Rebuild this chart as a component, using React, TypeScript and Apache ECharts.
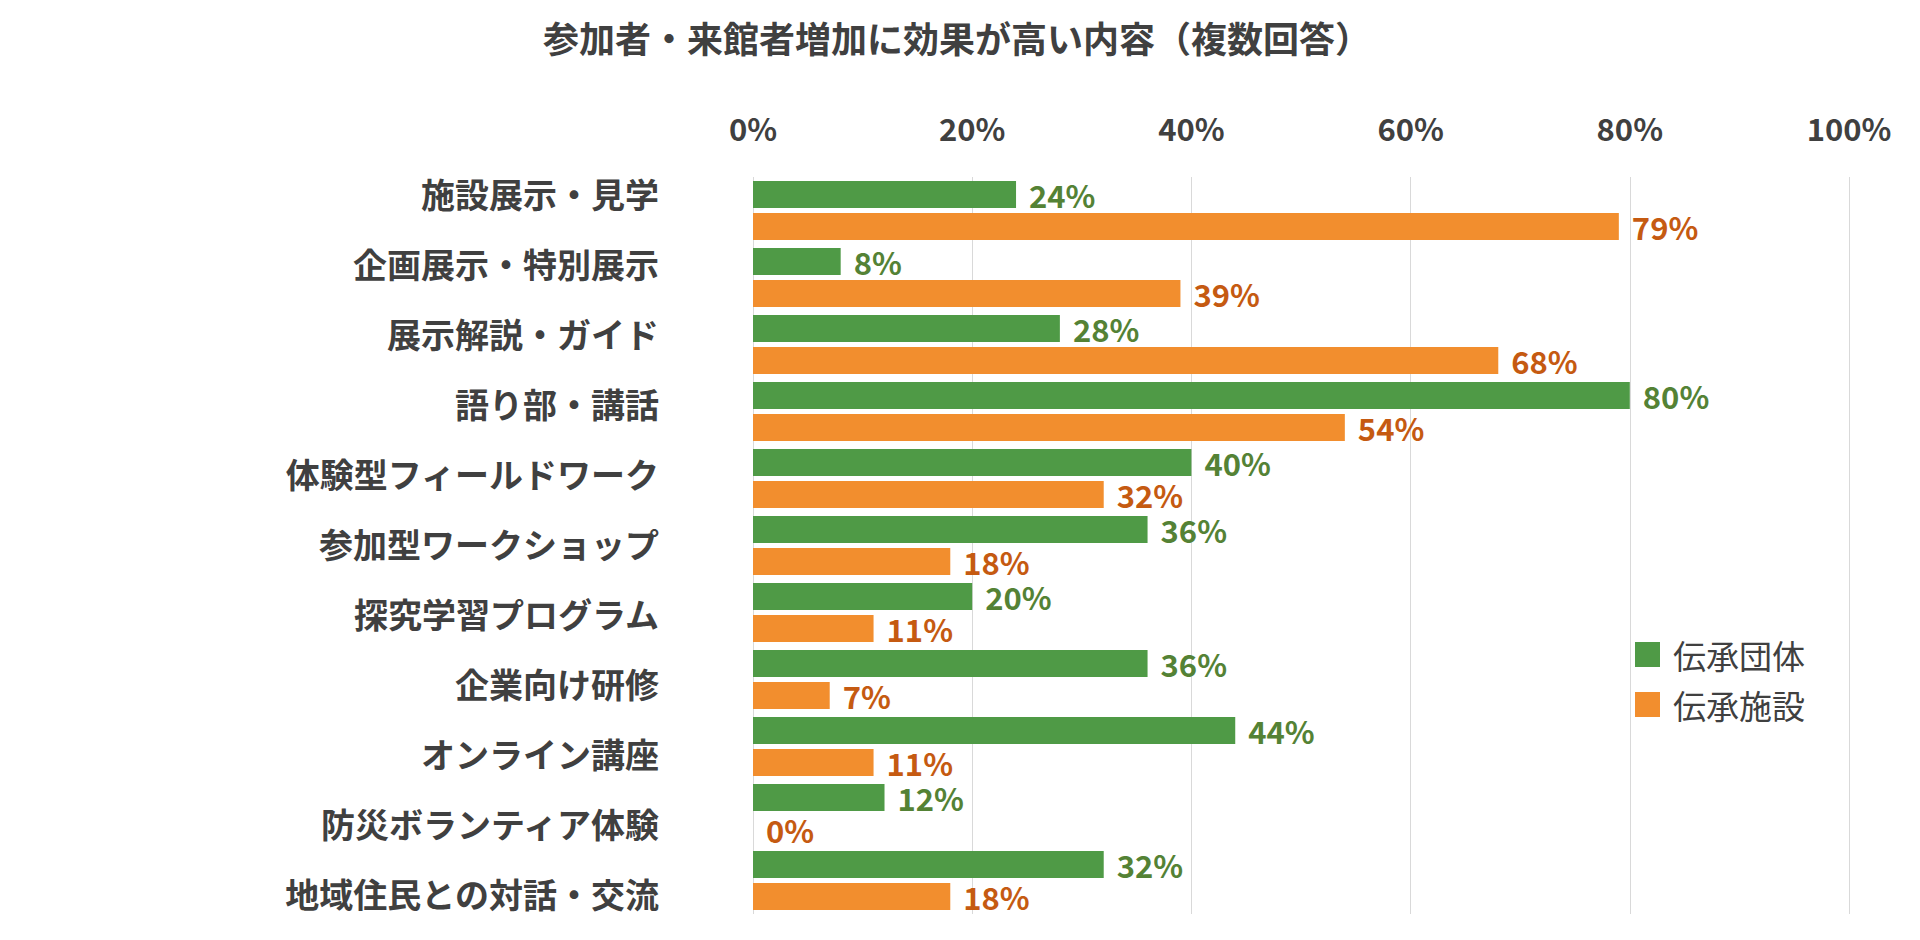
import React, { useEffect, useRef } from "react";
import * as echarts from "echarts";

const categories = [
  "施設展示・見学",
  "企画展示・特別展示",
  "展示解説・ガイド",
  "語り部・講話",
  "体験型フィールドワーク",
  "参加型ワークショップ",
  "探究学習プログラム",
  "企業向け研修",
  "オンライン講座",
  "防災ボランティア体験",
  "地域住民との対話・交流",
];

const groupValues = [24, 8, 28, 80, 40, 36, 20, 36, 44, 12, 32];
const facilityValues = [79, 39, 68, 54, 32, 18, 11, 7, 11, 0, 18];

const seriesNames = ["伝承団体", "伝承施設"];
const titleText = "参加者・来館者増加に効果が高い内容（複数回答）";

const FONT = '"Noto Sans CJK JP", "Noto Sans", sans-serif';
const TEXT = "#404040";

export default function App() {
  const ref = useRef<HTMLDivElement>(null);

  useEffect(() => {
    if (!ref.current) return;
    const chart = echarts.init(ref.current, undefined, { renderer: "svg" });
    const labelCommon = {
      show: true,
      position: "right" as const,
      distance: 13,
      formatter: "{c}%",
      fontFamily: FONT,
      fontSize: 31,
      lineHeight: 28,
      fontWeight: "bold" as const,
    };
    chart.setOption({
      animation: false,
      backgroundColor: "#ffffff",
      textStyle: { fontFamily: FONT },
      title: {
        text: titleText,
        left: 538,
        top: 13,
        textStyle: {
          fontFamily: FONT,
          fontSize: 36,
          lineHeight: 38,
          fontWeight: "bold",
          color: TEXT,
        },
      },
      legend: {
        data: seriesNames,
        orient: "vertical",
        left: 1630,
        top: 633,
        icon: "rect",
        itemWidth: 25,
        itemHeight: 25,
        itemGap: 17,
        textStyle: {
          fontFamily: FONT,
          fontSize: 33,
          lineHeight: 33,
          color: TEXT,
          padding: [0, 0, 0, 8],
        },
      },
      grid: [
        { left: 753, right: 71, top: 177, height: 737, containLabel: false },
        { left: 753, right: 71, top: 158, height: 770, containLabel: false },
      ],
      xAxis: [
        {
          type: "value",
          gridIndex: 0,
          position: "top",
          min: 0,
          max: 100,
          interval: 20,
          axisLine: { show: false },
          axisTick: { show: false },
          splitLine: { show: true, lineStyle: { color: "#d9d9d9", width: 1 } },
          axisLabel: {
            formatter: "{value}%",
            fontFamily: FONT,
            fontSize: 31,
            fontWeight: "bold",
            color: TEXT,
            margin: 50,
            verticalAlign: "middle",
          },
        },
        {
          type: "value",
          gridIndex: 1,
          min: 0,
          max: 100,
          show: false,
        },
      ],
      yAxis: [
        {
          type: "category",
          gridIndex: 0,
          data: categories,
          inverse: true,
          axisLine: { show: false },
          axisTick: { show: false },
          axisLabel: { show: false },
          splitLine: { show: false },
        },
        {
          type: "category",
          gridIndex: 1,
          data: categories,
          inverse: true,
          axisLine: { show: false },
          axisTick: { show: false },
          splitLine: { show: false },
          axisLabel: {
            show: true,
            interval: 0,
            fontFamily: FONT,
            fontSize: 34,
            fontWeight: "bold",
            color: TEXT,
            margin: 94,
          },
        },
      ],
      series: [
        {
          name: seriesNames[0],
          type: "bar",
          xAxisIndex: 0,
          yAxisIndex: 0,
          data: groupValues,
          barWidth: 27,
          barGap: "18.5%",
          itemStyle: { color: "#4f9a46" },
          label: { ...labelCommon, color: "#548235" },
        },
        {
          name: seriesNames[1],
          type: "bar",
          xAxisIndex: 0,
          yAxisIndex: 0,
          data: facilityValues,
          barWidth: 27,
          barGap: "18.5%",
          itemStyle: { color: "#f28e2e" },
          label: { ...labelCommon, color: "#c55a11" },
        },
      ],
    });
    return () => chart.dispose();
  }, []);

  return (
    <div
      ref={ref}
      style={{ position: "fixed", left: 0, top: 0, width: 1920, height: 940 }}
    />
  );
}
